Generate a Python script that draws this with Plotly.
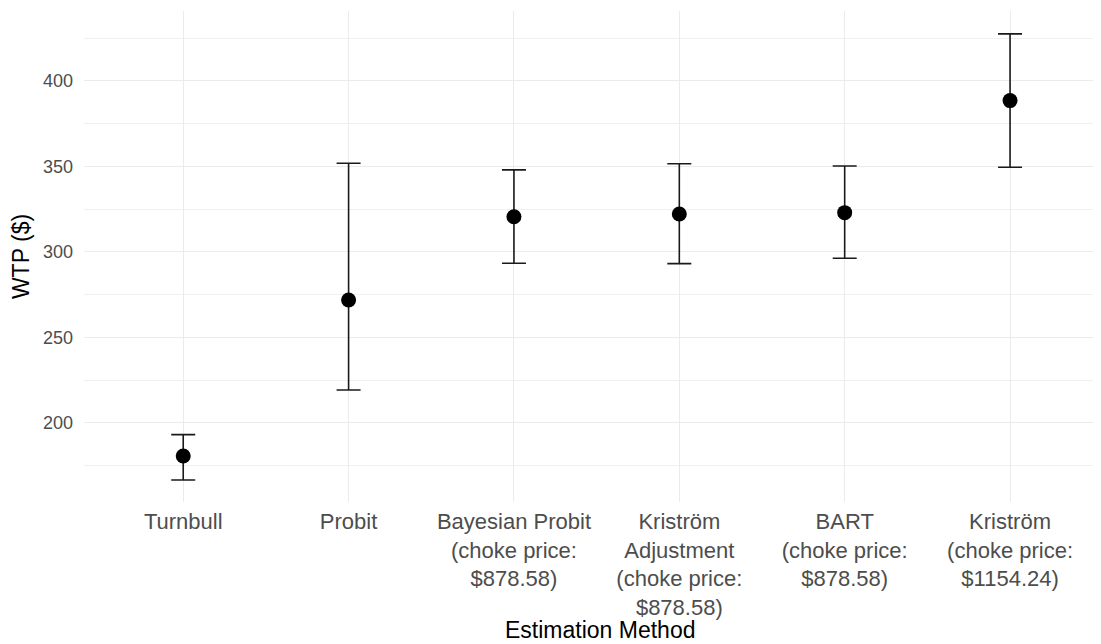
import plotly.graph_objects as go

methods = [
    "Turnbull",
    "Probit",
    "Bayesian Probit<br>(choke price:<br>$878.58)",
    "Kriström<br>Adjustment<br>(choke price:<br>$878.58)",
    "BART<br>(choke price:<br>$878.58)",
    "Kriström<br>(choke price:<br>$1154.24)",
]
wtp = [180.7, 271.9, 320.6, 322.2, 323.0, 388.5]
lower = [166.7, 219.3, 293.4, 293.2, 296.3, 349.5]
upper = [193.2, 351.9, 348.0, 351.6, 350.3, 427.5]

err_plus = [u - w for u, w in zip(upper, wtp)]
err_minus = [w - l for w, l in zip(wtp, lower)]

FONT = "Liberation Sans, Arial, sans-serif"

fig = go.Figure()
fig.add_trace(go.Scatter(
    x=methods, y=wtp, mode="markers",
    marker=dict(color="black", size=15, line=dict(width=0)),
    error_y=dict(type="data", symmetric=False, array=err_plus, arrayminus=err_minus,
                 color="#1a1a1a", thickness=1.6, width=12),
    showlegend=False,
))

fig.update_layout(
    width=1093, height=636,
    margin=dict(l=76, r=0, t=3, b=142),
    paper_bgcolor="white", plot_bgcolor="white",
    font=dict(family=FONT, color="black"),
    xaxis=dict(
        type="category", range=[-0.6, 5.55],
        showgrid=True, gridcolor="#ebebeb", gridwidth=1.2,
        zeroline=False, showline=False, ticks="",
        tickfont=dict(size=22, color="#4d4d4d", family=FONT),
        ticklabelstandoff=4,
        automargin=False,
    ),
    yaxis=dict(
        range=[153.8, 440.9],
        tick0=0, dtick=50,
        showgrid=True, gridcolor="#ebebeb", gridwidth=1.2,
        minor=dict(dtick=25, tick0=0, showgrid=True, gridcolor="#f0f0f0", gridwidth=1),
        zeroline=False, showline=False, ticks="",
        tickfont=dict(size=18, color="#4d4d4d", family=FONT),
        ticklabelstandoff=10,
        title=dict(text="WTP ($)", font=dict(size=23, color="black", family=FONT), standoff=7),
        automargin=False,
    ),
    annotations=[dict(
        text="Estimation Method", xref="paper", yref="paper", x=0.5, y=0,
        xanchor="center", yanchor="middle", xshift=7, yshift=-128, showarrow=False,
        font=dict(size=23, color="black", family=FONT),
    )],
)

fig.write_html("out.html")
